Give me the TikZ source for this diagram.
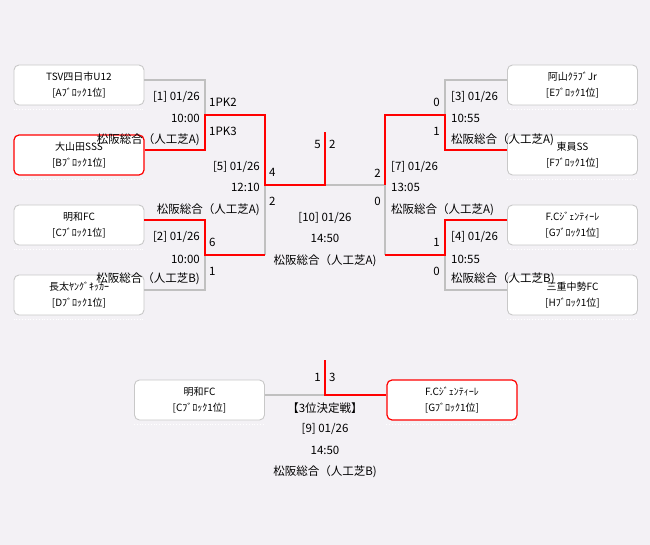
\documentclass[tikz,border=0pt]{standalone}
\usepackage{fontspec}
\newfontfamily\jpfont{Noto Sans CJK JP}
\definecolor{bg}{RGB}{243,241,245}
\definecolor{lgray}{RGB}{192,192,192}
\definecolor{bgray}{RGB}{200,200,200}
\definecolor{wred}{RGB}{255,0,0}
\tikzset{
 team/.style={draw=bgray, line width=0.9pt, fill=white, rounded corners=5pt, minimum width=130pt, minimum height=40pt, inner sep=0pt, align=center, font=\jpfont\fontsize{10}{16}\selectfont},
 winteam/.style={team, draw=wred, line width=1.2pt},
 lose/.style={draw=lgray, line width=2.5pt},
 win/.style={draw=wred, line width=2.5pt},
 lbl/.style={inner sep=0pt, font=\jpfont\fontsize{11.5}{12}\selectfont, text height=9pt, text depth=1pt},
 shadowline/.style={draw=white, dotted, line width=0.8pt},
}
\begin{document}
\begin{tikzpicture}[x=1pt,y=-1pt]
\useasboundingbox (0,0) rectangle (650,545);
\fill[bg] (0,0) rectangle (650,545);
% teams
\node[team] (A) at (79,85) {TSV四日市U12\\{}[Aﾌﾞﾛｯｸ1位]};
\node[winteam] (B) at (79,155) {大山田SSS\\{}[Bﾌﾞﾛｯｸ1位]};
\node[team] (C) at (79,225) {明和FC\\{}[Cﾌﾞﾛｯｸ1位]};
\node[team] (D) at (79,295) {長太ﾔﾝｸﾞｷｯｶｰ\\{}[Dﾌﾞﾛｯｸ1位]};
\node[team] (E) at (572.5,85) {阿山ｸﾗﾌﾞJr\\{}[Eﾌﾞﾛｯｸ1位]};
\node[team] (F) at (572.5,155) {東員SS\\{}[Fﾌﾞﾛｯｸ1位]};
\node[team] (G) at (572.5,225) {F.Cｼﾞｪﾝﾃｨｰﾚ\\{}[Gﾌﾞﾛｯｸ1位]};
\node[team] (H) at (572.5,295) {三重中勢FC\\{}[Hﾌﾞﾛｯｸ1位]};
\node[team] (TC) at (199.5,400) {明和FC\\{}[Cﾌﾞﾛｯｸ1位]};
\node[winteam] (TG) at (452,400) {F.Cｼﾞｪﾝﾃｨｰﾚ\\{}[Gﾌﾞﾛｯｸ1位]};
\foreach \n in {A,B,C,D,E,F,G,H,TC,TG}
  \draw[shadowline] ([yshift=-4pt]\n.south west) -- ([yshift=-4pt]\n.south east);
% match points
\coordinate (m1) at (205,115);
\coordinate (m2) at (205,255);
\coordinate (m5) at (265,185);
\coordinate (m3) at (445,115);
\coordinate (m4) at (445,255);
\coordinate (m7) at (385,185);
\coordinate (fin) at (325,185);
\coordinate (fintop) at (325,132);
\coordinate (thd) at (325,395);
\coordinate (thdtop) at (325,360);
% losing lines
\draw[lose] ([yshift=5pt]A.east) -| (m1);
\draw[lose] ([yshift=5pt]D.east) -| (m2);
\draw[lose] (m2 -| m5) -- (m5);
\draw[lose] ([yshift=5pt]E.west) -| (m3);
\draw[lose] ([yshift=5pt]H.west) -| (m4);
\draw[lose] (m4 -| m7) -- (m7);
\draw[lose] (m7) -- (fin);
\draw[lose] ([yshift=5pt]TC.east) -- (thd);
% winning lines
\draw[win] ([yshift=5pt]B.east) -| (m1) -| (m5) -| (fintop);
\draw[win] ([yshift=5pt]C.east) -| (m2) -- (m2 -| m5);
\draw[win] ([yshift=5pt]F.west) -| (m3) -| (m7);
\draw[win] ([yshift=5pt]G.west) -| (m4) -- (m4 -| m7);
\draw[win] ([yshift=5pt]TG.west) -- (thd) -- (thdtop);
% left labels
\node[lbl, anchor=east] (t1a) at (200,97) {[1] 01/26};
\node[lbl, anchor=east] (t1b) at (200,119) {10:00};
\node[lbl, anchor=east] (t1c) at (200,140) {松阪総合（人工芝A)};
\node[lbl, anchor=west] (s1a) at (209,103) {1PK2};
\node[lbl, anchor=west] (s1b) at (209,132) {1PK3};
\node[lbl, anchor=east] (t5a) at (260,167) {[5] 01/26};
\node[lbl, anchor=east] (t5b) at (260,188) {12:10};
\node[lbl, anchor=east] (t5c) at (260,210) {松阪総合（人工芝A)};
\node[lbl, anchor=west] (s5a) at (269,173) {4};
\node[lbl, anchor=west] (s5b) at (269,202) {2};
\node[lbl, anchor=west] (s2a) at (209,243) {6};
\node[lbl, anchor=west] (s2b) at (209,271) {1};
\node[lbl, anchor=east] (t2a) at (200,237) {[2] 01/26};
\node[lbl, anchor=east] (t2b) at (200,259) {10:00};
\node[lbl, anchor=east] (t2c) at (200,279) {松阪総合（人工芝B)};
% final labels
\node[lbl, anchor=east] (sfa) at (321,145) {5};
\node[lbl, anchor=west] (sfb) at (329,145) {2};
\node[lbl] (tfa) at (325,218) {[10] 01/26};
\node[lbl] (tfb) at (325,239) {14:50};
\node[lbl] (tfc) at (325,261) {松阪総合（人工芝A)};
% right labels
\node[lbl, anchor=east] (s3a) at (440,103) {0};
\node[lbl, anchor=east] (s3b) at (440,132) {1};
\node[lbl, anchor=west] (t3a) at (451,97) {[3] 01/26};
\node[lbl, anchor=west] (t3b) at (451,119) {10:55};
\node[lbl, anchor=west] (t3c) at (451,140) {松阪総合（人工芝A)};
\node[lbl, anchor=east] (s7a) at (381,174) {2};
\node[lbl, anchor=east] (s7b) at (381,202) {0};
\node[lbl, anchor=west] (t7a) at (391,167) {[7] 01/26};
\node[lbl, anchor=west] (t7b) at (391,188) {13:05};
\node[lbl, anchor=west] (t7c) at (391,210) {松阪総合（人工芝A)};
\node[lbl, anchor=east] (s4a) at (440,243) {1};
\node[lbl, anchor=east] (s4b) at (440,271) {0};
\node[lbl, anchor=west] (t4a) at (451,237) {[4] 01/26};
\node[lbl, anchor=west] (t4b) at (451,259) {10:55};
\node[lbl, anchor=west] (t4c) at (451,279) {松阪総合（人工芝B)};
% third place labels
\node[lbl, anchor=east] (sta) at (321,377) {1};
\node[lbl, anchor=west] (stb) at (329,377) {3};
\node[lbl] (tta) at (325,408) {【3位決定戦】};
\node[lbl] (ttb) at (325,428) {[9] 01/26};
\node[lbl] (ttc) at (325,450) {14:50};
\node[lbl] (ttd) at (325,471) {松阪総合（人工芝B)};
\end{tikzpicture}
\end{document}
